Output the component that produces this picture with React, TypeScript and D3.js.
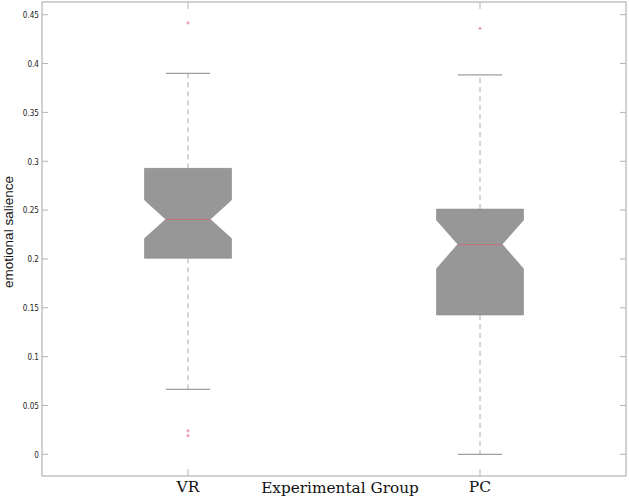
import React, { useEffect, useRef } from "react";
import * as d3 from "d3";

// groups and box statistics
const groups = ["VR", "PC"];
const q1 = [0.2006, 0.1426];
const medians = [0.2405, 0.215];
const q3 = [0.2927, 0.251];
const notchLow = [0.221, 0.19];
const notchHigh = [0.2603, 0.2398];
const whiskerLow = [0.0665, 0.0];
const whiskerHigh = [0.39, 0.3885];
const outliers = [[0.4416, 0.024, 0.019], [0.436]];
const yTicks = [0, 0.05, 0.1, 0.15, 0.2, 0.25, 0.3, 0.35, 0.4, 0.45];

const W = 629;
const H = 498;

const App = () => {
  const ref = useRef<SVGSVGElement>(null);

  useEffect(() => {
    const svg = d3.select(ref.current);
    svg.selectAll("*").remove();

    const left = 42, right = 626, top = 2, bottom = 476;

    const x = d3.scalePoint().domain(groups).range([left, right]).padding(0.5);
    const y = d3.scaleLinear().domain([-0.0222, 0.463]).range([bottom, top]);

    const axisColor = "#b4b4b4";

    // frame
    svg.append("rect")
      .attr("x", left).attr("y", top)
      .attr("width", right - left).attr("height", bottom - top)
      .attr("fill", "none").attr("stroke", axisColor).attr("stroke-width", 1.2);

    // y ticks, left and right, pointing inward
    yTicks.forEach(t => {
      svg.append("line").attr("x1", left).attr("x2", left + 6)
        .attr("y1", y(t)).attr("y2", y(t)).attr("stroke", axisColor);
      svg.append("line").attr("x1", right - 6).attr("x2", right)
        .attr("y1", y(t)).attr("y2", y(t)).attr("stroke", axisColor);
      svg.append("text")
        .attr("x", left - 3).attr("y", y(t)).attr("dy", "0.35em")
        .attr("text-anchor", "end")
        .attr("font-family", "'Liberation Sans Narrow', 'DejaVu Sans Condensed', sans-serif")
        .attr("font-size", 9.5).attr("fill", "#222")
        .attr("transform", `translate(${left - 3},0) scale(0.85,1) translate(${-(left - 3)},0)`)
        .text(String(t));
    });

    // x ticks, bottom and top
    groups.forEach(g => {
      svg.append("line").attr("x1", x(g)).attr("x2", x(g))
        .attr("y1", bottom).attr("y2", bottom - 7).attr("stroke", axisColor);
      svg.append("line").attr("x1", x(g)).attr("x2", x(g))
        .attr("y1", top).attr("y2", top + 7).attr("stroke", axisColor);
      svg.append("text")
        .attr("x", x(g)).attr("y", 492).attr("text-anchor", "middle")
        .attr("font-family", "'DejaVu Serif', serif").attr("font-size", 15.5)
        .attr("fill", "#111").text(g);
    });

    svg.append("text")
      .attr("x", 340).attr("y", 493).attr("text-anchor", "middle")
      .attr("font-family", "'DejaVu Serif', serif").attr("font-size", 15.3)
      .attr("fill", "#111").text("Experimental Group");

    svg.append("text")
      .attr("transform", "translate(13,232) rotate(-90)")
      .attr("text-anchor", "middle")
      .attr("font-family", "'Liberation Sans', Arial, sans-serif")
      .attr("font-size", 13.5).attr("fill", "#111")
      .text("emotional salience");

    const step = x.step();
    const hw = step * 0.149;
    const nw = hw * 0.51;

    groups.forEach((g, i) => {
      const cx = x(g) as number;

      // whiskers
      svg.append("line").attr("x1", cx).attr("x2", cx)
        .attr("y1", y(q3[i])).attr("y2", y(whiskerHigh[i]))
        .attr("stroke", "#aaa").attr("stroke-dasharray", "5,4");
      svg.append("line").attr("x1", cx).attr("x2", cx)
        .attr("y1", y(q1[i])).attr("y2", y(whiskerLow[i]))
        .attr("stroke", "#aaa").attr("stroke-dasharray", "5,4");
      [whiskerHigh[i], whiskerLow[i]].forEach(v => {
        svg.append("line").attr("x1", cx - nw).attr("x2", cx + nw)
          .attr("y1", y(v)).attr("y2", y(v))
          .attr("stroke", "#a0a0a0").attr("stroke-width", 1.2);
      });

      // notched box
      const pts: [number, number][] = [
        [cx - hw, y(q3[i])], [cx + hw, y(q3[i])], [cx + hw, y(notchHigh[i])],
        [cx + nw, y(medians[i])], [cx + hw, y(notchLow[i])], [cx + hw, y(q1[i])],
        [cx - hw, y(q1[i])], [cx - hw, y(notchLow[i])], [cx - nw, y(medians[i])],
        [cx - hw, y(notchHigh[i])],
      ];
      svg.append("polygon")
        .attr("points", pts.map(p => p.join(",")).join(" "))
        .attr("fill", "#979797").attr("stroke", "#8a8a8a").attr("stroke-width", 0.6);

      const my = Math.round(y(medians[i])) + 0.5;
      svg.append("line").attr("x1", cx - nw).attr("x2", cx + nw)
        .attr("y1", my).attr("y2", my)
        .attr("stroke", "#c0737c").attr("stroke-width", 1.1);

      // outliers
      outliers[i].forEach(v => {
        const oy = y(v);
        svg.append("path")
          .attr("d", `M${cx - 1.6},${oy}H${cx + 1.6}M${cx},${oy - 1.6}V${oy + 1.6}`)
          .attr("stroke", "#e57a8a").attr("stroke-width", 0.9);
      });
    });
  }, []);

  return (
    <svg ref={ref} width={W} height={H}
      style={{ position: "absolute", left: 0, top: 0, background: "#fff" }} />
  );
};

export default App;
